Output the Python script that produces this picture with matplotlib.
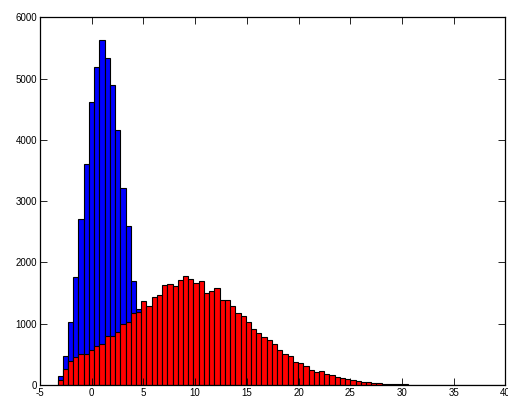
import matplotlib
matplotlib.use("Agg")
import matplotlib.pyplot as plt
import numpy as np

# shared histogram bins (left edge of first bin, bin width)
BIN_START = -3.30
BIN_WIDTH = 0.5054

blue_counts = [147, 473, 1023, 1757, 2703, 3605, 4611, 5193, 5623, 5334,
               4889, 4160, 3209, 2594, 1702, 1235, 760, 420, 210, 100,
               45, 20, 8, 3, 1]

red_counts = [82, 256, 397, 451, 500, 511, 571, 636, 663, 794,
              805, 859, 1000, 1022, 1169, 1185, 1375, 1289, 1430, 1463,
              1626, 1648, 1615, 1708, 1773, 1724, 1669, 1691, 1496, 1528,
              1577, 1381, 1381, 1284, 1180, 1120, 1022, 908, 843, 778,
              729, 664, 566, 506, 468, 370, 364, 305, 250, 207,
              225, 180, 155, 135, 114, 93, 87, 60, 49, 44,
              33, 27, 22, 16, 16, 11, 11, 7, 5, 6,
              3, 2, 3, 1, 2, 1, 1, 0, 1, 1,
              0, 1, 0, 1, 1, 1]

x_ticks = list(range(-5, 41, 5))
y_ticks = list(range(0, 6001, 1000))

plt.rcParams["font.family"] = ["Liberation Sans", "DejaVu Sans"]
plt.rcParams["axes.unicode_minus"] = False

fig = plt.figure(figsize=(5.08, 3.99), dpi=100)
ax = fig.add_axes([0.0787, 0.0351, 0.9163, 0.9215])

def bin_lefts(n):
    return BIN_START + BIN_WIDTH * np.arange(n)

ax.bar(bin_lefts(len(blue_counts)), blue_counts, width=BIN_WIDTH, align="edge",
       color=(0, 0, 1), edgecolor="black", linewidth=0.8)
ax.bar(bin_lefts(len(red_counts)), red_counts, width=BIN_WIDTH, align="edge",
       color=(1, 0, 0), edgecolor="black", linewidth=0.8)

ax.set_xlim(-5, 40)
ax.set_ylim(0, 6000)
ax.set_xticks(x_ticks)
ax.set_yticks(y_ticks)
ax.tick_params(direction="in", top=True, right=True, length=5, width=0.6,
               labelsize=7, pad=2)
for s in ax.spines.values():
    s.set_linewidth(0.9)

fig.savefig("out.png", dpi=100)
